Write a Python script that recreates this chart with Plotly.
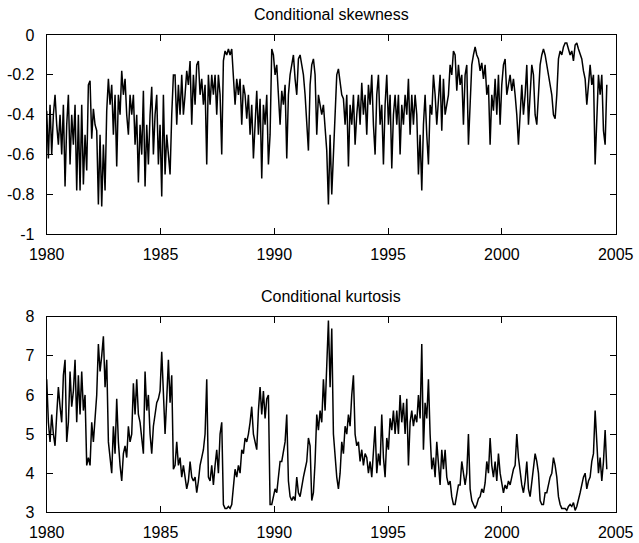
import numpy as np
import plotly.graph_objects as go

# Time span of the sample (decimal years, regular sampling grid)
START_YEAR = 1980.0
END_YEAR = 2004.61

# Conditional skewness
skewness = [
    -0.38, -0.62, -0.35, -0.60, -0.40, -0.30, -0.45, -0.55, -0.40, -0.60,
    -0.35, -0.76, -0.45, -0.30, -0.65, -0.40, -0.55, -0.35, -0.78, -0.40,
    -0.78, -0.35, -0.75, -0.50, -0.68, -0.25, -0.23, -0.52, -0.37, -0.45,
    -0.48, -0.85, -0.50, -0.86, -0.55, -0.78, -0.38, -0.22, -0.35, -0.25,
    -0.50, -0.30, -0.66, -0.30, -0.40, -0.18, -0.30, -0.22, -0.40, -0.50,
    -0.30, -0.40, -0.30, -0.55, -0.40, -0.74, -0.45, -0.60, -0.28, -0.76,
    -0.45, -0.65, -0.40, -0.26, -0.60, -0.40, -0.30, -0.65, -0.45, -0.81,
    -0.30, -0.70, -0.50, -0.62, -0.70, -0.40, -0.20, -0.20, -0.45, -0.25,
    -0.40, -0.20, -0.40, -0.30, -0.18, -0.25, -0.13, -0.45, -0.20, -0.35,
    -0.15, -0.13, -0.30, -0.22, -0.35, -0.25, -0.65, -0.20, -0.35, -0.20,
    -0.30, -0.20, -0.40, -0.20,
    -0.30, -0.60, -0.13, -0.08, -0.10, -0.07, -0.10, -0.07, -0.20, -0.35,
    -0.22, -0.30, -0.22, -0.45, -0.25, -0.30, -0.42, -0.30, -0.50, -0.35,
    -0.62, -0.40, -0.28, -0.50, -0.32, -0.72, -0.35, -0.45, -0.30, -0.65,
    -0.50, -0.07, -0.10, -0.20, -0.15, -0.30, -0.45, -0.28, -0.35, -0.25,
    -0.62, -0.30, -0.20, -0.15, -0.10, -0.22, -0.30, -0.12, -0.10, -0.15,
    -0.20, -0.30, -0.42, -0.58, -0.25, -0.15, -0.12, -0.20, -0.50, -0.30,
    -0.35, -0.40, -0.35, -0.45, -0.58, -0.85, -0.50, -0.80, -0.60, -0.45,
    -0.20, -0.17, -0.25, -0.30, -0.32, -0.45, -0.30, -0.66, -0.35, -0.45,
    -0.30, -0.55, -0.40, -0.30, -0.45, -0.24, -0.40, -0.30, -0.50, -0.25,
    -0.35, -0.20, -0.45, -0.60, -0.30, -0.20, -0.45, -0.35, -0.65, -0.35,
    -0.20, -0.45, -0.30, -0.67, -0.40, -0.30, -0.45, -0.30, -0.60, -0.35,
    -0.45, -0.30, -0.40, -0.22, -0.50, -0.30, -0.45, -0.30, -0.40, -0.70,
    -0.50, -0.78, -0.45, -0.30, -0.50, -0.65, -0.35, -0.40, -0.20, -0.30,
    -0.45, -0.30, -0.20, -0.48, -0.22, -0.40, -0.35, -0.30, -0.15, -0.20,
    -0.08, -0.10, -0.28, -0.15, -0.25, -0.20, -0.45, -0.20, -0.15, -0.55,
    -0.35, -0.15, -0.10, -0.06, -0.10, -0.12, -0.18, -0.14, -0.22, -0.15,
    -0.30, -0.25, -0.55, -0.30, -0.38, -0.22, -0.40, -0.20, -0.45, -0.25,
    -0.15, -0.12, -0.30, -0.25, -0.20, -0.28, -0.22, -0.30, -0.40, -0.55,
    -0.40, -0.25, -0.40, -0.30, -0.15, -0.45, -0.30, -0.15, -0.20, -0.40,
    -0.45, -0.30, -0.15, -0.10, -0.07, -0.10, -0.15, -0.20, -0.25, -0.30,
    -0.40, -0.42, -0.30, -0.12, -0.08, -0.10, -0.06, -0.04, -0.04, -0.07,
    -0.10, -0.08, -0.13, -0.05, -0.04, -0.07, -0.10, -0.12, -0.18, -0.22,
    -0.35, -0.25, -0.15, -0.25, -0.20, -0.65, -0.40, -0.20, -0.30, -0.20,
    -0.48, -0.55, -0.25,
]

# Conditional kurtosis
kurtosis = [
    6.4, 5.3, 4.8, 5.5, 5.0, 4.7, 5.5, 6.2, 5.7, 5.3,
    6.5, 6.9, 4.8, 5.3, 6.6, 5.7, 6.1, 6.9, 5.3, 6.5,
    5.5, 6.6, 5.6, 6.0, 4.2, 4.4, 4.2, 5.3, 4.8, 5.5,
    6.0, 7.3, 6.6, 7.0, 7.5, 6.2, 6.9, 4.8, 4.3, 4.0,
    5.2, 4.5, 5.9, 4.8, 4.2, 3.8, 4.5, 4.7, 4.4, 5.2,
    4.8, 5.0, 6.3, 5.5, 6.4, 5.5, 5.3, 4.8, 4.5, 6.6,
    5.6, 6.0, 5.0, 4.5, 5.2, 5.5, 5.8, 5.9, 6.1, 7.1,
    6.2, 5.0, 5.9, 6.9, 5.8, 6.5, 4.1, 4.2, 4.8, 4.2,
    4.4, 3.9, 4.2, 3.9, 3.6, 3.8, 4.3, 3.9, 3.8, 3.9,
    3.5, 3.8, 4.2, 4.4, 4.6, 5.0, 6.4, 3.9, 3.8, 4.2,
    3.7, 4.2, 4.6, 4.0,
    5.0, 5.3, 3.2, 3.1, 3.1, 3.15, 3.1, 3.2, 3.7, 4.1,
    3.9, 4.2, 4.0, 4.6, 4.5, 4.9, 4.8, 5.0, 5.3, 5.7,
    5.0, 4.8, 4.6, 5.6, 6.2, 5.5, 6.1, 5.4, 5.9, 6.0,
    3.2, 3.2, 3.4, 3.6, 3.5, 3.9, 4.3, 4.3, 4.6, 4.8,
    5.5, 3.8, 3.4, 3.3, 3.4, 3.3, 3.9, 3.5, 3.4, 3.7,
    3.9, 4.1, 4.3, 4.9, 4.7, 3.3, 3.5, 4.3, 5.5, 5.1,
    5.6, 5.3, 6.4, 5.6, 6.6, 7.9, 6.2, 7.7, 5.0, 4.3,
    3.9, 3.6, 4.0, 4.8, 4.5, 5.2, 5.0, 5.5, 5.2, 6.0,
    6.5, 5.0, 4.7, 4.8, 4.3, 4.6, 4.2, 4.5, 4.4, 4.0,
    4.3, 3.9, 4.6, 5.2, 4.0, 4.5, 4.2, 5.5, 4.4, 3.9,
    4.9, 4.6, 5.4, 5.1, 5.6, 5.0, 5.6, 5.0, 6.0, 5.3,
    5.8, 5.0, 5.9, 4.2, 5.3, 5.6, 5.2, 5.5, 5.3, 6.0,
    5.4, 7.3, 4.6, 5.8, 5.4, 6.4, 5.0, 4.1, 4.4, 3.9,
    4.8, 4.2, 3.7, 4.6, 4.1, 4.6, 3.9, 3.7, 3.8, 3.4,
    3.2, 3.2, 3.5, 3.7, 3.7, 4.3, 4.0, 3.7, 4.0, 5.0,
    3.6, 3.3, 3.2, 3.1, 3.2, 3.35, 3.4, 3.6, 3.5, 3.75,
    4.3, 4.0, 4.9, 4.2, 3.9, 4.3, 3.8, 4.5, 4.0, 3.7,
    3.5, 3.7, 3.6, 3.8, 3.7, 3.9, 4.1, 4.2, 5.0, 4.4,
    4.0, 3.7, 3.5, 3.8, 4.3, 3.6, 3.4, 3.8, 4.2, 4.5,
    4.3, 4.0, 3.3, 3.2, 3.2, 3.5, 3.5, 3.7, 3.9, 4.0,
    4.4, 4.2, 3.9, 3.4, 3.2, 3.1, 3.1, 3.1, 3.05, 3.15,
    3.2, 3.15, 3.25, 3.05, 3.15, 3.3, 3.5, 3.7, 3.9, 4.0,
    3.6, 3.8, 3.9, 4.3, 4.5, 5.6, 4.9, 4.0, 4.4, 3.8,
    4.3, 5.1, 4.1,
]

# Axis ticks and labels
year_ticks = [1980, 1985, 1990, 1995, 2000, 2005]
year_labels = ["1980", "1985", "1990", "1995", "2000", "2005"]
skew_ticks = [-1, -0.8, -0.6, -0.4, -0.2, 0]
skew_labels = ["-1", "-0.8", "-0.6", "-0.4", "-0.2", "0"]
kurt_ticks = [3, 4, 5, 6, 7, 8]
kurt_labels = ["3", "4", "5", "6", "7", "8"]

titles = ["Conditional skewness", "Conditional kurtosis"]

skew_dates = np.linspace(START_YEAR, END_YEAR, len(skewness))
kurt_dates = np.linspace(START_YEAR, END_YEAR, len(kurtosis))

FONT = "Liberation Sans, Arial, Helvetica, sans-serif"
LINE = dict(color="black", width=1.5)

fig = go.Figure()
fig.add_trace(go.Scatter(x=skew_dates, y=skewness, mode="lines", line=LINE,
                         xaxis="x", yaxis="y", showlegend=False))
fig.add_trace(go.Scatter(x=kurt_dates, y=kurtosis, mode="lines", line=LINE,
                         xaxis="x2", yaxis="y2", showlegend=False))

axis_style = dict(
    showline=True, linecolor="black", linewidth=1, mirror="ticks",
    ticks="inside", ticklen=6, tickwidth=1, tickcolor="black",
    showgrid=False, zeroline=False, automargin=False,
    tickfont=dict(family=FONT, size=16, color="black"),
)
x_style = dict(axis_style, ticklabelstandoff=5)
y_style = dict(axis_style, ticklabelstandoff=8)

x_domain = [0.0731, 0.9635]
top_domain = [0.5685, 0.9355]
bottom_domain = [0.0565, 0.4168]

fig.update_layout(
    template="none",
    width=639, height=543,
    margin=dict(l=0, r=0, t=0, b=0),
    paper_bgcolor="white", plot_bgcolor="white",
    xaxis=dict(domain=x_domain, anchor="y", range=[1980, 2005],
               tickvals=year_ticks, ticktext=year_labels, **x_style),
    yaxis=dict(domain=top_domain, anchor="x", range=[-1, 0],
               tickvals=skew_ticks, ticktext=skew_labels, **y_style),
    xaxis2=dict(domain=x_domain, anchor="y2", range=[1980, 2005],
                tickvals=year_ticks, ticktext=year_labels, **x_style),
    yaxis2=dict(domain=bottom_domain, anchor="x2", range=[3, 8],
                tickvals=kurt_ticks, ticktext=kurt_labels, **y_style),
    annotations=[
        dict(text=titles[0], x=sum(x_domain) / 2, y=top_domain[1] + 0.037,
             xref="paper", yref="paper", showarrow=False,
             xanchor="center", yanchor="middle",
             font=dict(family=FONT, size=16, color="black")),
        dict(text=titles[1], x=sum(x_domain) / 2, y=bottom_domain[1] + 0.037,
             xref="paper", yref="paper", showarrow=False,
             xanchor="center", yanchor="middle",
             font=dict(family=FONT, size=16, color="black")),
    ],
)

fig.write_html("out.html", config={"displayModeBar": False})
